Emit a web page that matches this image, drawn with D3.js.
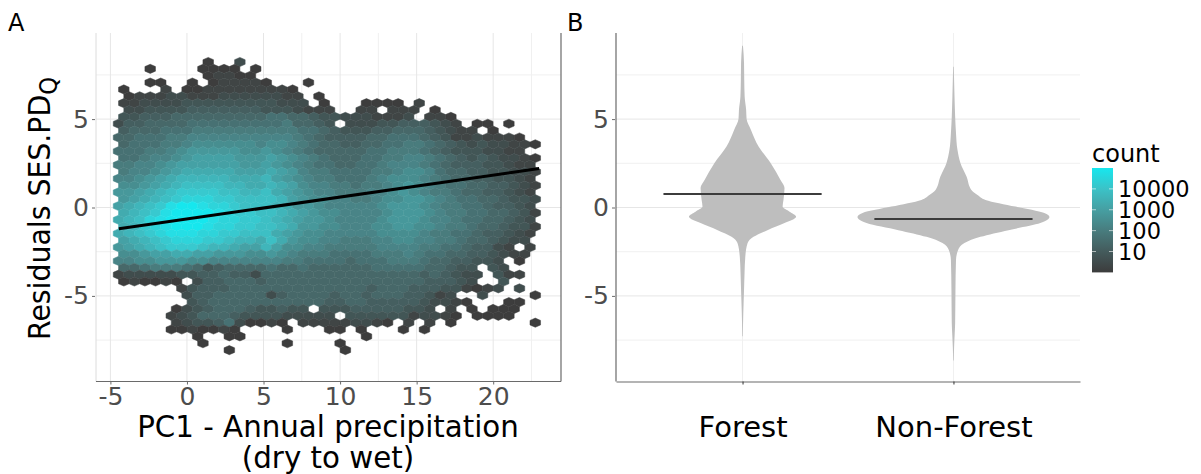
<!DOCTYPE html>
<html>
<head>
<meta charset="utf-8">
<script src="https://d3js.org/d3.v7.min.js"></script>
<style>
  html, body { margin: 0; background: #fff; }
  text { font-family: "DejaVu Sans", sans-serif; }
</style>
</head>
<body>
<svg id="chart" width="1201" height="474"></svg>
<script>
// Hexbin grid (PC1 units / residual units)
const hexX0 = -4.468;
const hexDx = 0.689;
const hexY0 = 8.23;
const hexDy = 0.388;

// One string per hex row, top to bottom, one char per column.
// '.' = empty, otherwise a base-20 shade (see levelToLog)
const hexRows = [
  "........0..2",
  "...0....0000.0",
  "........01100",
  "...00..0.011110...0",
  "0...1.00111111110",
  ".01112211122222211.0",
  "112222333333333222.0...0000.1",
  ".22333344444443332111..11.111.0",
  "3344455555555566554332221112.110",
  "244555566666666675543.22233444321.00.0",
  "4555666777777777766543334455543211.0",
  "556667788888888887654444556665431121110",
  "5666778999999899876554455667765432322110",
  "6667789aaaaa99a987655555667776543332211",
  "667889abbbbaaaba987655566778876543432210",
  "77889abbbbbbaaba987665566788876544433211",
  "7889abcccccbbbcba87766667789986554433221",
  "889abcdddddcccdba98776667899987655443321",
  "99abcdeeeeddccdcb9887767789a987665544321",
  "aabcdeffffeeddecba988777889a987765544321",
  "abcdefgggffeeeedba998877899aa98766554332",
  "bcdefhiihggfeeedcaa9888889aaa98776654432",
  "cdefhijjihgffeedcba9988889aaa98776655431",
  "cdeghijjihggffedcbaa988889aaa98876655432",
  "cdfghiiihggffeedcaa9988899aa998776554331",
  "cdefghhhggffeeecba9988888999987766544321",
  "bcdefgggffeddceca9988777889988776554322",
  "abcdefffeddcbbdb9988777778888776654421.1",
  "99abbccbbaaa99a987776666777876655443211",
  "8899aaa998888888776666566677765544332.0",
  "5567776534555565565555556666655433.32",
  "12222233445442555555555555555454322.311",
  "010010.244555455555555555555544432..3",
  "......1344455555555555554555444331012.2",
  "......24455555245555455455544312..2....0",
  ".......345555555555544554444432210...00",
  ".....0234555433433.33344444332.1.0.000",
  ".....1235554333322222.33333312210.0000",
  ".....12334620010.111112210.1.1.0.......0",
  ".....0010010....0...00.0...0.0",
  ".......0..00...........0",
  "........0.......0....0",
  "..........0..........0"
];
const levelToLog = 0.28;

const regressionX = [-4.45, 23];
const regressionY = [-1.2, 2.2];

const xTicksA = [-5, 0, 5, 10, 15, 20];
const xMinorA = [7.5, 12.5, 22.5];
const yTicks = [-5, 0, 5];
const yMinor = [-7.5, -2.5, 2.5, 7.5];

const groups = ["Forest", "Non-Forest"];
const groupMeans = [0.76, -0.65];

// violin outlines: residual value and half width in category units
const forestY = [9.15, 8.19, 7.23, 6.28, 5.53, 5.02, 4.39, 3.45, 2.52, 1.56, 1.11, 0.43, 0.05, -0.24, -0.52, -0.88, -1.28, -1.66, -2.01, -2.79, -3.71, -4.68, -5.41, -6.55, -7.28];
const forestW = [0.002, 0.007, 0.008, 0.010, 0.017, 0.019, 0.040, 0.076, 0.133, 0.180, 0.199, 0.194, 0.190, 0.223, 0.254, 0.199, 0.118, 0.052, 0.024, 0.013, 0.0095, 0.007, 0.005, 0.0024, 0.0014];
const nonForestY = [7.96, 6.28, 5.15, 4.22, 3.26, 2.52, 1.75, 0.99, 0.71, 0.43, 0.05, -0.31, -0.54, -0.88, -1.28, -1.66, -2.01, -2.41, -2.98, -4.68, -6.55, -7.11, -7.91, -8.65];
const nonForestW = [0.0015, 0.005, 0.008, 0.012, 0.019, 0.033, 0.062, 0.085, 0.114, 0.152, 0.294, 0.431, 0.455, 0.412, 0.261, 0.128, 0.052, 0.022, 0.012, 0.0095, 0.008, 0.006, 0.003, 0.0014];

const legendTicks = [10, 100, 1000, 10000];

const svg = d3.select('#chart');

const panelTop = 33, panelBottom = 381.5;
const y = d3.scaleLinear().domain([-5, 5]).range([295.9, 119.1]);
const xA = d3.scaleLinear().domain([-5, 20]).range([110.4, 493.2]);
const xB = d3.scalePoint().domain(groups).range([616, 1080]).padding(0.6);
const widthB = d3.scaleLinear().domain([0, 1]).range([0, xB.step()]);
const colorCount = d3.scaleLog().domain([1, 100000]).clamp(true)
    .range(['#3c3c3c', '#17e7ee']).interpolate(d3.interpolateLab);

const gridMajor = '#e6e6e6', gridMinor = '#f0f0f0', axisDark = '#6a6a6a', tickText = '#4d4d4d';

function horizontalGrid(g, x1, x2) {
    g.selectAll('line.minor-y').data(yMinor).join('line').attr('class', 'minor-y')
        .attr('x1', x1).attr('x2', x2)
        .attr('y1', d => y(d)).attr('y2', d => y(d))
        .attr('stroke', gridMinor);
    g.selectAll('line.major-y').data(yTicks).join('line').attr('class', 'major-y')
        .attr('x1', x1).attr('x2', x2)
        .attr('y1', d => y(d)).attr('y2', d => y(d))
        .attr('stroke', gridMajor);
}

function leftAxis(x) {
    const g = svg.append('g').attr('transform', `translate(${x},0)`)
        .call(d3.axisLeft(y).tickValues(yTicks).tickSize(3).tickPadding(3).tickFormat(d3.format('d')));
    g.select('.domain').remove();
    g.selectAll('.tick line').attr('stroke', axisDark);
    g.selectAll('.tick text').attr('fill', tickText).style('font-size', '25px')
        .text(d => String(d));
    return g;
}

// ---- Panel A ----
const gridA = svg.append('g');
horizontalGrid(gridA, 96, 561);
gridA.selectAll('line.minor-x').data(xMinorA).join('line').attr('class', 'minor-x')
    .attr('x1', d => xA(d)).attr('x2', d => xA(d))
    .attr('y1', panelTop).attr('y2', panelBottom)
    .attr('stroke', gridMinor);
gridA.selectAll('line.major-x').data(xTicksA).join('line').attr('class', 'major-x')
    .attr('x1', d => xA(d)).attr('x2', d => xA(d))
    .attr('y1', panelTop).attr('y2', panelBottom)
    .attr('stroke', gridMajor);

// expand the row strings into cells
const hexCells = [];
hexRows.forEach((row, r) => {
    row.split('').forEach((ch, k) => {
        if (ch === '.') return;
        hexCells.push({
            x: hexX0 + (k + (r % 2 === 0 ? 0.5 : 0)) * hexDx,
            y: hexY0 - r * hexDy,
            count: Math.pow(10, parseInt(ch, 20) * levelToLog)
        });
    });
});

function hexPath(d) {
    const cx = xA(d.x), cy = y(d.y);
    const hw = xA(hexDx / 2) - xA(0);
    const hs = (y(0) - y(hexDy)) * 2 / 3; // vertex distance for pointy top
    const pts = [[0, -hs], [hw, -hs / 2], [hw, hs / 2], [0, hs], [-hw, hs / 2], [-hw, -hs / 2]];
    return 'M' + pts.map(p => [cx + p[0], cy + p[1]].join(',')).join('L') + 'Z';
}

const defs = svg.append('defs');
defs.append('filter').attr('id', 'soft')
    .append('feGaussianBlur').attr('stdDeviation', 0.5);

svg.append('g').attr('filter', 'url(#soft)')
    .selectAll('path').data(hexCells).join('path')
    .attr('d', hexPath)
    .attr('fill', d => colorCount(d.count))
    .attr('stroke', d => colorCount(d.count))
    .attr('stroke-width', 0.5);

svg.append('line')
    .attr('x1', xA(regressionX[0])).attr('x2', xA(regressionX[1]))
    .attr('y1', y(regressionY[0])).attr('y2', y(regressionY[1]))
    .attr('stroke', '#000').attr('stroke-width', 3);

// panel frame: pale left, dark right and bottom
svg.append('line').attr('x1', 96).attr('x2', 96).attr('y1', panelTop).attr('y2', panelBottom).attr('stroke', '#dcdcdc');
svg.append('line').attr('x1', 561).attr('x2', 561).attr('y1', panelTop).attr('y2', panelBottom).attr('stroke', axisDark).attr('stroke-width', 1.2);

const axisA = svg.append('g').attr('transform', `translate(0,${panelBottom})`)
    .call(d3.axisBottom(xA).tickValues(xTicksA).tickSize(3).tickPadding(3).tickFormat(d3.format('d')));
axisA.select('.domain').remove();
axisA.selectAll('.tick line').attr('stroke', axisDark);
axisA.selectAll('.tick text').attr('fill', tickText).style('font-size', '25px').text(d => String(d));
svg.append('line').attr('x1', 96).attr('x2', 561).attr('y1', panelBottom).attr('y2', panelBottom).attr('stroke', axisDark).attr('stroke-width', 1.2);

leftAxis(95);

svg.append('text').attr('x', 328).attr('y', 436.5).attr('text-anchor', 'middle')
    .style('font-size', '29.3px').text('PC1 - Annual precipitation');
svg.append('text').attr('x', 328).attr('y', 468).attr('text-anchor', 'middle')
    .style('font-size', '29.3px').text('(dry to wet)');

// reference text is squeezed along the reading direction here
const yTitle = svg.append('text').attr('transform', 'translate(50,340) rotate(-90) scale(0.945,1)')
    .style('font-size', '30px');
yTitle.append('tspan').text('Residuals SES.PD');
yTitle.append('tspan').attr('dy', 7).style('font-size', '24px').text('Q');

svg.append('text').attr('x', 8).attr('y', 31).style('font-size', '24px').text('A');
svg.append('text').attr('x', 567).attr('y', 31).style('font-size', '24px').text('B');

// ---- Panel B ----
const gridB = svg.append('g');
horizontalGrid(gridB, 616, 1080);
gridB.selectAll('line.group').data(groups).join('line').attr('class', 'group')
    .attr('x1', d => xB(d)).attr('x2', d => xB(d))
    .attr('y1', panelTop).attr('y2', panelBottom)
    .attr('stroke', gridMinor);

const violinData = [
    { group: groups[0], ys: forestY, ws: forestW },
    { group: groups[1], ys: nonForestY, ws: nonForestW }
];
svg.append('g').selectAll('path').data(violinData).join('path')
    .attr('fill', '#bebebe')
    .attr('d', v => d3.area()
        .curve(d3.curveMonotoneY)
        .y((d, i) => y(d))
        .x0((d, i) => xB(v.group) - widthB(v.ws[i]))
        .x1((d, i) => xB(v.group) + widthB(v.ws[i]))(v.ys));

const meanHalf = 0.375;
svg.append('g').selectAll('line').data(groups).join('line')
    .attr('x1', d => xB(d) - widthB(meanHalf))
    .attr('x2', d => xB(d) + widthB(meanHalf))
    .attr('y1', (d, i) => y(groupMeans[i]))
    .attr('y2', (d, i) => y(groupMeans[i]))
    .attr('stroke', '#3c3c3c').attr('stroke-width', 2);

const axisB = svg.append('g').attr('transform', `translate(0,${panelBottom})`)
    .call(d3.axisBottom(xB).tickSize(3).tickSizeOuter(0).tickPadding(32));
axisB.select('.domain').attr('stroke', axisDark).attr('stroke-width', 1.2);
axisB.selectAll('.tick line').attr('stroke', '#333');
axisB.selectAll('.tick text').attr('fill', '#000').style('font-size', '29px');

svg.append('line').attr('x1', 616).attr('x2', 616).attr('y1', panelTop).attr('y2', panelBottom).attr('stroke', axisDark).attr('stroke-width', 1.2);
leftAxis(615);

// ---- Legend ----
const legendY = d3.scaleLog().domain([1, 100000]).range([272.4, 168]);
const grad = defs.append('linearGradient').attr('id', 'countRamp')
    .attr('x1', 0).attr('x2', 0).attr('y1', 1).attr('y2', 0);
grad.selectAll('stop').data([1, 10, 100, 1000, 10000, 100000]).join('stop')
    .attr('offset', (d, i) => i / 5)
    .attr('stop-color', d => colorCount(d));
svg.append('rect').attr('x', 1092).attr('y', legendY(100000))
    .attr('width', 21).attr('height', legendY(1) - legendY(100000))
    .attr('fill', 'url(#countRamp)');
const legendGroup = svg.append('g').selectAll('g').data(legendTicks).join('g');
legendGroup.append('line').attr('x1', 1092).attr('x2', 1096)
    .attr('y1', d => legendY(d)).attr('y2', d => legendY(d)).attr('stroke', '#fff').attr('stroke-opacity', 0.6);
legendGroup.append('line').attr('x1', 1109).attr('x2', 1113)
    .attr('y1', d => legendY(d)).attr('y2', d => legendY(d)).attr('stroke', '#fff').attr('stroke-opacity', 0.6);
legendGroup.append('text').attr('x', 1118).attr('y', d => legendY(d))
    .attr('dy', '0.36em').style('font-size', '22.5px').text(d => d);
svg.append('text').attr('x', 1092).attr('y', 162).style('font-size', '24px').text('count');
</script>
</body>
</html>
